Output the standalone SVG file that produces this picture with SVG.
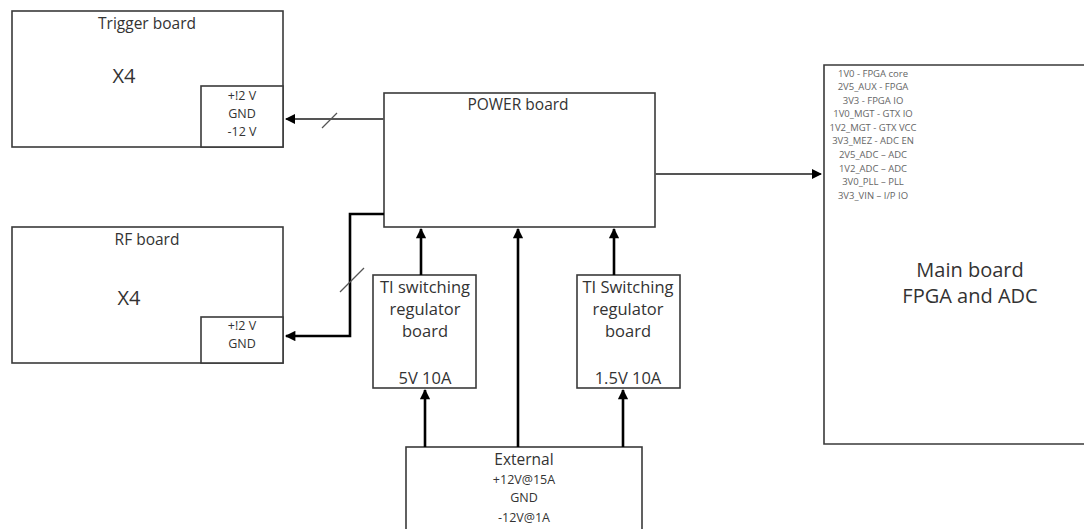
<svg xmlns="http://www.w3.org/2000/svg" width="1084" height="529" viewBox="0 0 1084 529">
  <style>
    .box { fill: #fff; stroke: #3a3a3a; stroke-width: 1.6; }
    .t { font-family: "Open Sans", "Liberation Sans", sans-serif; fill: #333; text-anchor: middle; }
    .s16 { font-size: 15.5px; }
    .s12 { font-size: 12.5px; }
    .s17 { font-size: 16.5px; }
    .s20 { font-size: 20px; }
    .rail { font-family: "Open Sans", "Liberation Sans", sans-serif; fill: #666; text-anchor: middle; font-size: 9.5px; }
    .thin { fill: none; stroke: #555; stroke-width: 2; }
    .thick { fill: none; stroke: #000; stroke-width: 2.6; }
    .tick { stroke: #555; stroke-width: 1.3; }
  </style>
  <defs>
    <marker id="ah" viewBox="0 0 10 10" refX="9" refY="5" markerWidth="4.5" markerHeight="4" markerUnits="strokeWidth" orient="auto">
      <path d="M0,0 L10,5 L0,10 z" fill="#000"/>
    </marker>
    <marker id="ahs" viewBox="0 0 10 10" refX="9" refY="5" markerWidth="6" markerHeight="5" markerUnits="strokeWidth" orient="auto">
      <path d="M0,0 L10,5 L0,10 z" fill="#000"/>
    </marker>
  </defs>

  <rect width="1084" height="529" fill="#fff"/>

  <g id="trigger-board">
    <rect class="box" x="12" y="11" width="271" height="136"/>
    <text class="t s16" x="147" y="29">Trigger board</text>
    <text class="t s20" x="124" y="83">X4</text>
    <rect class="box" x="201" y="86" width="82" height="61"/>
    <text class="t s12" x="242" y="100">+!2 V</text>
    <text class="t s12" x="242" y="118">GND</text>
    <text class="t s12" x="242" y="136">-12 V</text>
  </g>

  <g id="rf-board">
    <rect class="box" x="12" y="227" width="271" height="136"/>
    <text class="t s16" x="147" y="245">RF board</text>
    <text class="t s20" x="129" y="305">X4</text>
    <rect class="box" x="201" y="317" width="82" height="46"/>
    <text class="t s12" x="242" y="330">+!2 V</text>
    <text class="t s12" x="242" y="348">GND</text>
  </g>

  <g id="power-board">
    <rect class="box" x="384" y="93" width="271" height="134"/>
    <text class="t s16" x="518" y="110">POWER board</text>
  </g>

  <g id="ti-regulator-5v">
    <rect class="box" x="373" y="275" width="103" height="113"/>
    <text class="t s17" x="425" y="293">TI switching</text>
    <text class="t s17" x="425" y="315">regulator</text>
    <text class="t s17" x="425" y="337">board</text>
    <text class="t s17" x="425" y="384">5V 10A</text>
  </g>

  <g id="ti-regulator-1v5">
    <rect class="box" x="577" y="275" width="103" height="113"/>
    <text class="t s17" x="628" y="293">TI Switching</text>
    <text class="t s17" x="628" y="315">regulator</text>
    <text class="t s17" x="628" y="337">board</text>
    <text class="t s17" x="628" y="384">1.5V 10A</text>
  </g>

  <g id="external">
    <rect class="box" x="406" y="447" width="236" height="90"/>
    <text class="t s16" x="524" y="465">External</text>
    <text class="t s12" x="524" y="484">+12V@15A</text>
    <text class="t s12" x="524" y="502">GND</text>
    <text class="t s12" x="524" y="522">-12V@1A</text>
  </g>

  <g id="main-board">
    <path class="box" d="M1090,65 H824 V444 H1090"/>
    <text class="rail" x="873" y="77">1V0  - FPGA core</text>
    <text class="rail" x="873" y="90">2V5_AUX - FPGA</text>
    <text class="rail" x="873" y="104">3V3 - FPGA IO</text>
    <text class="rail" x="873" y="117">1V0_MGT -  GTX IO</text>
    <text class="rail" x="873" y="131">1V2_MGT - GTX VCC</text>
    <text class="rail" x="873" y="144">3V3_MEZ - ADC EN</text>
    <text class="rail" x="873" y="158">2V5_ADC – ADC</text>
    <text class="rail" x="873" y="172">1V2_ADC – ADC</text>
    <text class="rail" x="873" y="185">3V0_PLL – PLL</text>
    <text class="rail" x="873" y="199">3V3_VIN – I/P IO</text>
    <text class="t s20" x="970" y="277">Main board</text>
    <text class="t s20" x="970" y="303">FPGA and ADC</text>
  </g>

  <g id="connectors">
    <!-- POWER board to Trigger board, bus -->
    <line class="thin" x1="384" y1="119" x2="286" y2="119" marker-end="url(#ahs)"/>
    <line class="tick" x1="322" y1="128" x2="337" y2="113"/>
    <!-- POWER board to Main board -->
    <line class="thin" x1="655" y1="174" x2="821" y2="174" marker-end="url(#ahs)"/>
    <!-- POWER board to RF board, bus -->
    <polyline class="thick" points="384,214 350,214 350,336 286,336" marker-end="url(#ah)"/>
    <line class="tick" x1="340" y1="292" x2="364" y2="268"/>
    <!-- Regulators up into POWER board -->
    <line class="thick" x1="421" y1="275" x2="421" y2="229" marker-end="url(#ah)"/>
    <line class="thick" x1="518" y1="447" x2="518" y2="229" marker-end="url(#ah)"/>
    <line class="thick" x1="614" y1="275" x2="614" y2="229" marker-end="url(#ah)"/>
    <!-- External into regulators -->
    <line class="thick" x1="425" y1="447" x2="425" y2="390" marker-end="url(#ah)"/>
    <line class="thick" x1="623" y1="447" x2="623" y2="390" marker-end="url(#ah)"/>
  </g>
</svg>
